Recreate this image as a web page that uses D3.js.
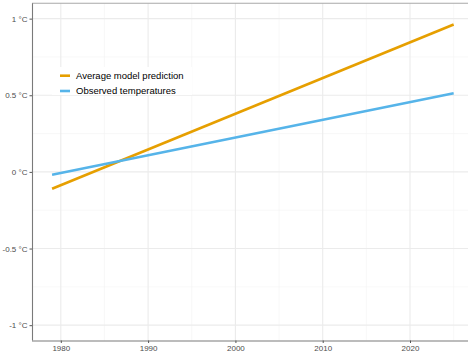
<!DOCTYPE html>
<html>
<head>
<meta charset="utf-8">
<script src="https://cdn.jsdelivr.net/npm/d3@7"></script>
<style>
  html, body { margin: 0; padding: 0; background: #fff; }
  svg { display: block; font-family: "Liberation Sans", Arial, sans-serif; }
</style>
</head>
<body>
<svg id="chart" width="468" height="354"></svg>
<script>
// Trend lines: start and end year with the fitted temperature anomaly (°C)
const years = [1979, 2025];
const modelPrediction = [-0.11, 0.962];
const observedTemps = [-0.018, 0.513];
const seriesNames = ["Average model prediction", "Observed temperatures"];
const seriesColors = ["#E69F00", "#56B4E9"];
const xTicks = [1980, 1990, 2000, 2010, 2020];
const xMinor = [1985, 1995, 2005, 2015, 2025];
const yTicks = [-1, -0.5, 0, 0.5, 1];
const yMinor = [-0.75, -0.25, 0.25, 0.75];
const yTickLabels = ["-1 °C", "-0.5 °C", "0 °C", "0.5 °C", "1 °C"];

(function draw() {
  const svg = d3.select("#chart");
  const panelLeft = 32, panelTop = 3.3, panelBottom = 340.5, panelRight = 468;

  // x spans the data range plus 5% padding on each side; the panel runs past the right edge
  const x = d3.scaleLinear().domain([1976.7, 2027.3]).range([panelLeft, panelLeft + 50.6 * 8.73]);
  const y = d3.scaleLinear().domain([-1.1, 1.1]).range([panelBottom, panelTop]);

  const grid = svg.append("g");
  grid.selectAll(".ymin").data(yMinor).join("line")
    .attr("x1", panelLeft).attr("x2", panelRight)
    .attr("y1", d => y(d)).attr("y2", d => y(d))
    .attr("stroke", "#f4f4f4").attr("stroke-width", 0.6);
  grid.selectAll(".xmin").data(xMinor).join("line")
    .attr("y1", panelTop).attr("y2", panelBottom)
    .attr("x1", d => x(d)).attr("x2", d => x(d))
    .attr("stroke", "#f4f4f4").attr("stroke-width", 0.6);
  grid.selectAll(".ymaj").data(yTicks).join("line")
    .attr("x1", panelLeft).attr("x2", panelRight)
    .attr("y1", d => y(d)).attr("y2", d => y(d))
    .attr("stroke", "#ebebeb").attr("stroke-width", 1.1);
  grid.selectAll(".xmaj").data(xTicks).join("line")
    .attr("y1", panelTop).attr("y2", panelBottom)
    .attr("x1", d => x(d)).attr("x2", d => x(d))
    .attr("stroke", "#ebebeb").attr("stroke-width", 1.1);

  // top border of the panel
  svg.append("line").attr("x1", panelLeft).attr("x2", panelRight)
    .attr("y1", panelTop).attr("y2", panelTop)
    .attr("stroke", "#a8a8a8").attr("stroke-width", 1.1);

  // Trend lines
  const line = d3.line().x(d => x(d[0])).y(d => y(d[1]));
  [modelPrediction, observedTemps].forEach((vals, i) => {
    svg.append("path")
      .datum(years.map((yr, j) => [yr, vals[j]]))
      .attr("d", line)
      .attr("fill", "none")
      .attr("stroke", seriesColors[i])
      .attr("stroke-width", 2.6);
  });

  // Axes
  const xAxis = svg.append("g").attr("transform", `translate(0,${panelBottom})`)
    .call(d3.axisBottom(x).tickValues(xTicks).tickFormat(d3.format("d")).tickSize(2.5).tickPadding(2));
  const yAxis = svg.append("g").attr("transform", `translate(${panelLeft},0)`)
    .call(d3.axisLeft(y).tickValues(yTicks).tickFormat((d, i) => yTickLabels[i]).tickSize(2.5).tickPadding(2));
  [xAxis, yAxis].forEach(a => {
    a.select(".domain").attr("stroke", "#7a7a7a").attr("stroke-width", 1.1);
    a.selectAll(".tick line").attr("stroke", "#555").attr("stroke-width", 1);
    a.selectAll(".tick text").attr("fill", "#4d4d4d").attr("font-size", 8)
      .attr("font-family", "'Liberation Sans', Arial, sans-serif");
  });
  xAxis.select(".domain").attr("d", `M${panelLeft},0.5H${panelRight}`);
  yAxis.select(".domain").attr("d", `M0.5,${panelTop}V${panelBottom}`);

  // Legend
  const legend = svg.append("g").attr("transform", "translate(52,67)");
  legend.append("rect").attr("width", 140).attr("height", 28).attr("fill", "#fff");
  seriesNames.forEach((name, i) => {
    const row = legend.append("g").attr("transform", `translate(0,${8.7 + i * 15.3})`);
    row.append("line").attr("x1", 8).attr("x2", 18).attr("y1", 0).attr("y2", 0)
      .attr("stroke", seriesColors[i]).attr("stroke-width", 2.6);
    row.append("text").attr("x", 24).attr("y", 0).attr("dy", "0.35em")
      .attr("font-size", 9.5).attr("fill", "#000").text(name);
  });
})();
</script>
</body>
</html>
